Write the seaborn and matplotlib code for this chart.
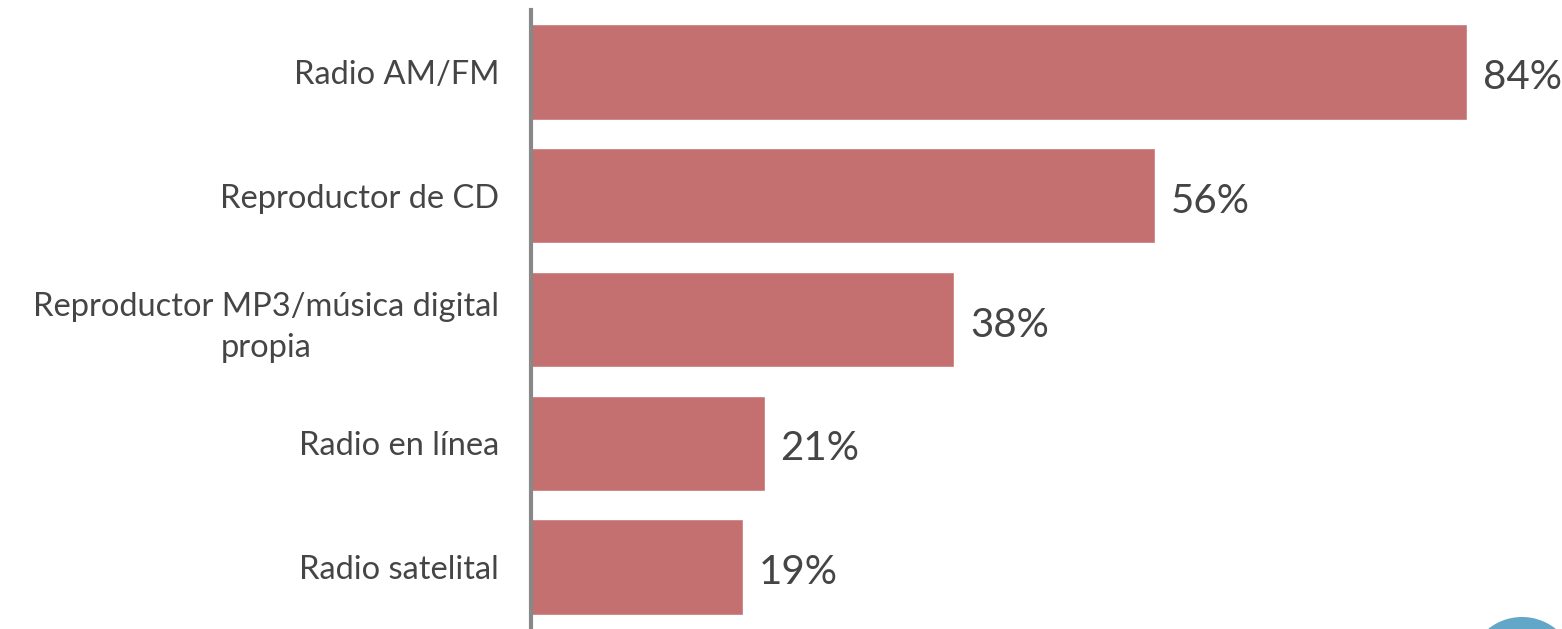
import matplotlib
matplotlib.use("Agg")
import matplotlib.pyplot as plt
import seaborn as sns
import pandas as pd
from matplotlib.patches import Ellipse

categories = ["Radio AM/FM", "Reproductor de CD", "Reproductor MP3/música digital\npropia",
              "Radio en línea", "Radio satelital"]
values = [84, 56, 38, 21, 19]
value_labels = ["84%", "56%", "38%", "21%", "19%"]

sns.set_theme(style="white")
plt.rcParams['font.family'] = ['Lato', 'DejaVu Sans']

df = pd.DataFrame({"cat": categories, "val": values})

fig = plt.figure(figsize=(15.62, 6.29), dpi=100)
W, H = 1562, 629
ax = fig.add_axes([531 / W, 0, (W - 531) / W, (629 - 10) / H])

sns.barplot(data=df, x="val", y="cat", orient="h", color="#c47070", saturation=1,
            width=0.77, ax=ax)
ax.set_xlim(0, (W - 531) / (936 / 84))
ax.set_ylim(4.5, -0.5)
ax.set_xlabel("")
ax.set_ylabel("")
ax.set_xticks([])
for s in ["top", "right", "bottom"]:
    ax.spines[s].set_visible(False)
ax.spines["left"].set_color("#888888")
ax.spines["left"].set_linewidth(3)
ax.tick_params(axis="y", length=0, pad=23)
for lab in ax.get_yticklabels():
    lab.set_fontsize(23.5)
    lab.set_color("#454545")
    lab.set_multialignment("center")
    lab.set_linespacing(1.45)

for i, (v, t) in enumerate(zip(values, value_labels)):
    ax.text(v + 1.4, i + 0.045, t, va="center", ha="left", fontsize=29, color="#454545")

fig.patches.append(Ellipse((1522 / W, (H - 671) / H), 108 / W, 108 / H,
                           transform=fig.transFigure, facecolor="#62a6c8", edgecolor="none"))
fig.savefig("out.png", dpi=100)
